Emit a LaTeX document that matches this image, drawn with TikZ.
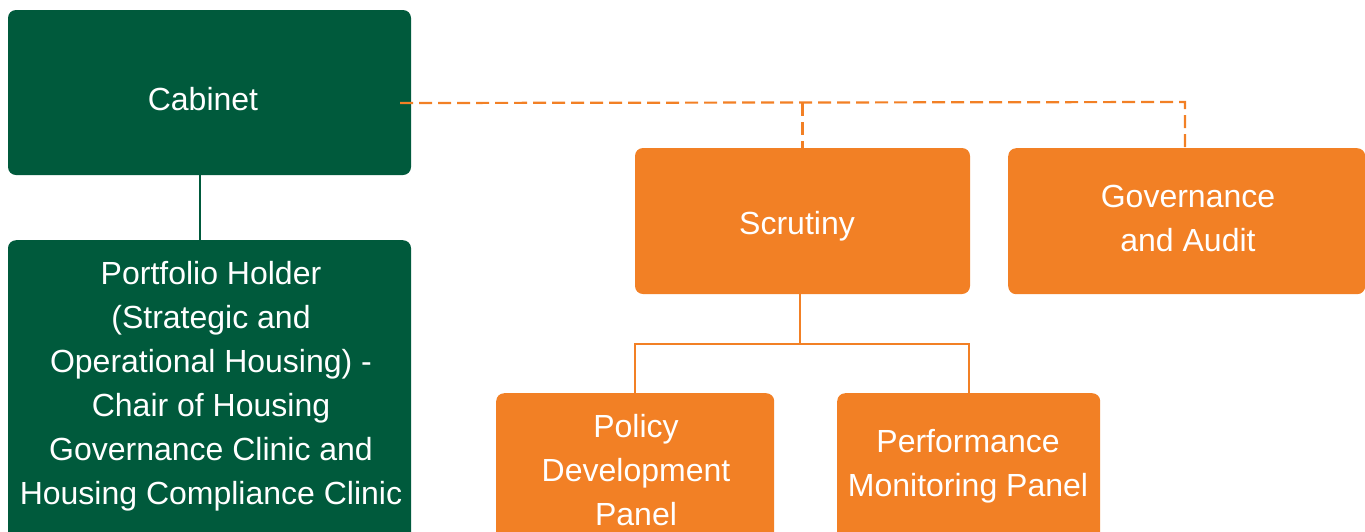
\documentclass[tikz,border=0pt]{standalone}
\usepackage{fontspec}
\setmainfont{Liberation Sans}
\definecolor{cgreen}{HTML}{005A3C}
\definecolor{corange}{HTML}{F28025}
\begin{document}
\begin{tikzpicture}[x=1pt,y=-1pt,
  gbox/.style={fill=cgreen, rounded corners=8pt, inner sep=0pt},
  obox/.style={fill=corange, rounded corners=8pt, inner sep=0pt},
  lbl/.style={text=white, align=center, font=\fontsize{32}{44}\selectfont, inner sep=0pt},
  oline/.style={draw=corange, line width=2pt},
  gline/.style={draw=cgreen, line width=2pt},
  dline/.style={draw=corange, line width=2.2pt, dash pattern=on 13pt off 6pt}]
\useasboundingbox (0,0) rectangle (1365,531);
\clip (0,0) rectangle (1365,531);
\node[gbox, minimum width=403pt, minimum height=165pt] (cab) at (209.5,92.5) {};
\node[gbox, minimum width=403pt, minimum height=320pt, anchor=north] (port) at (209.5,240) {};
\node[obox, minimum width=335pt, minimum height=146pt] (scr) at (802.5,221) {};
\node[obox, minimum width=357pt, minimum height=146pt, anchor=north west] (gov) at (1008,148) {};
\node[obox, minimum width=278pt, minimum height=200pt, anchor=north west] (pol) at (496,393) {};
\node[obox, minimum width=263pt, minimum height=200pt, anchor=north west] (perf) at (837,393) {};
\node[lbl] (cabt) at (203,99) {Cabinet};
\node[lbl] (portt) at (211,386) {Portfolio Holder\\(Strategic and\\Operational Housing) -\\Chair of Housing\\Governance Clinic and\\Housing Compliance Clinic};
\node[lbl] (scrt) at (797,226) {Scrutiny};
\node[lbl] (govt) at (1188,218) {Governance\\and Audit};
\node[lbl] (polt) at (636,470) {Policy\\Development\\Panel};
\node[lbl] (perft) at (968,466) {Performance\\Monitoring Panel};
\coordinate (d0) at (400,103);
\coordinate (d1) at (1185,102);
\coordinate (j) at (800,344);
\draw[gline] ([xshift=-9.5pt]cab.south) -- ([xshift=-9.5pt]port.north);
\draw[dline] (d0) -- (d1) -- (d1 |- gov.north);
\draw[dline] (scr.north |- d0) -- (scr.north);
\draw[oline] ([xshift=-2.5pt]scr.south) -- (j);
\draw[oline] (pol.north) |- (j) -| (perf.north);
\end{tikzpicture}
\end{document}
